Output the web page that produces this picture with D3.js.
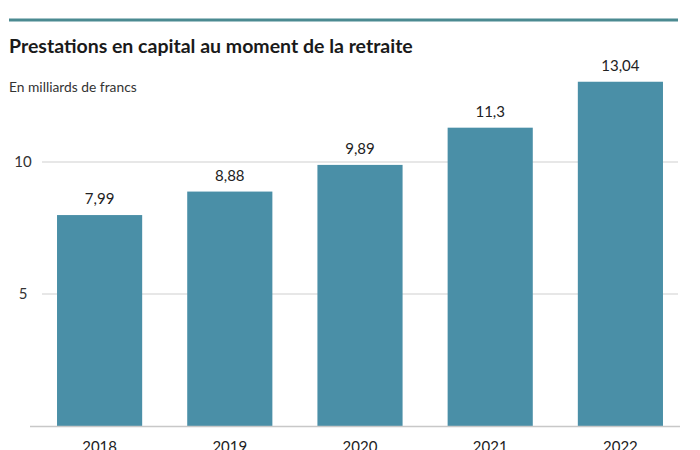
<!DOCTYPE html>
<html>
<head>
<meta charset="utf-8">
<script src="https://cdn.jsdelivr.net/npm/d3@7"></script>
<style>
  html, body { margin: 0; padding: 0; background: #fff; }
  svg { display: block; }
  text { font-family: Lato, "Open Sans", sans-serif; }
</style>
</head>
<body>
<svg id="chart" width="700" height="450"></svg>
<script>
const years = ["2018", "2019", "2020", "2021", "2022"];
const values = [7.99, 8.88, 9.89, 11.3, 13.04];
const valueLabels = ["7,99", "8,88", "9,89", "11,3", "13,04"];
const yTicks = [5, 10];

const svg = d3.select("#chart");

// top rule
svg.append("line")
  .attr("x1", 9).attr("x2", 678).attr("y1", 20).attr("y2", 20)
  .attr("stroke", "#4b8a91").attr("stroke-width", 3);

svg.append("text")
  .attr("x", 9).attr("y", 53)
  .attr("font-size", 19.5).attr("font-weight", 700).attr("fill", "#1a1a1a")
  .text("Prestations en capital au moment de la retraite");

svg.append("text")
  .attr("x", 9).attr("y", 92)
  .attr("font-size", 13.8).attr("fill", "#333")
  .text("En milliards de francs");

const x = d3.scaleBand()
  .domain(years)
  .range([34.5, 685.5])
  .paddingInner(0.346)
  .paddingOuter(0.173);

const y = d3.scaleLinear().domain([0, 15]).range([426, 30]);

// gridlines
const grid = svg.append("g");
grid.selectAll("line")
  .data(yTicks)
  .join("line")
  .attr("x1", 42).attr("x2", 678)
  .attr("y1", d => y(d)).attr("y2", d => y(d))
  .attr("stroke", "#cfcfcf").attr("stroke-width", 1);

grid.selectAll("text")
  .data(yTicks)
  .join("text")
  .attr("x", 23).attr("y", d => y(d))
  .attr("dy", "0.35em")
  .attr("text-anchor", "middle")
  .attr("font-size", 15).attr("fill", "#333")
  .text(d => d);

// bars
svg.append("g").selectAll("rect")
  .data(values)
  .join("rect")
  .attr("x", (d, i) => x(years[i]))
  .attr("width", x.bandwidth())
  .attr("y", d => y(d))
  .attr("height", d => y(0) - y(d))
  .attr("fill", "#4a8fa7");

// value labels
svg.append("g").selectAll("text")
  .data(values)
  .join("text")
  .attr("x", (d, i) => x(years[i]) + x.bandwidth() / 2)
  .attr("y", d => y(d) - 11)
  .attr("text-anchor", "middle")
  .attr("font-size", 15).attr("fill", "#222")
  .text((d, i) => valueLabels[i]);

// baseline
svg.append("line")
  .attr("x1", 30).attr("x2", 680)
  .attr("y1", y(0) + 0.5).attr("y2", y(0) + 0.5)
  .attr("stroke", "#c8c8c8").attr("stroke-width", 1.5);

// x axis labels
const xAxis = d3.axisBottom(x).tickSize(0).tickPadding(0);
const gx = svg.append("g")
  .attr("transform", `translate(0,${y(0) + 15})`)
  .call(xAxis);
gx.select(".domain").remove();
gx.selectAll("text")
  .attr("font-size", 15).attr("fill", "#222")
  .attr("font-family", "Lato, 'Open Sans', sans-serif");
</script>
</body>
</html>
